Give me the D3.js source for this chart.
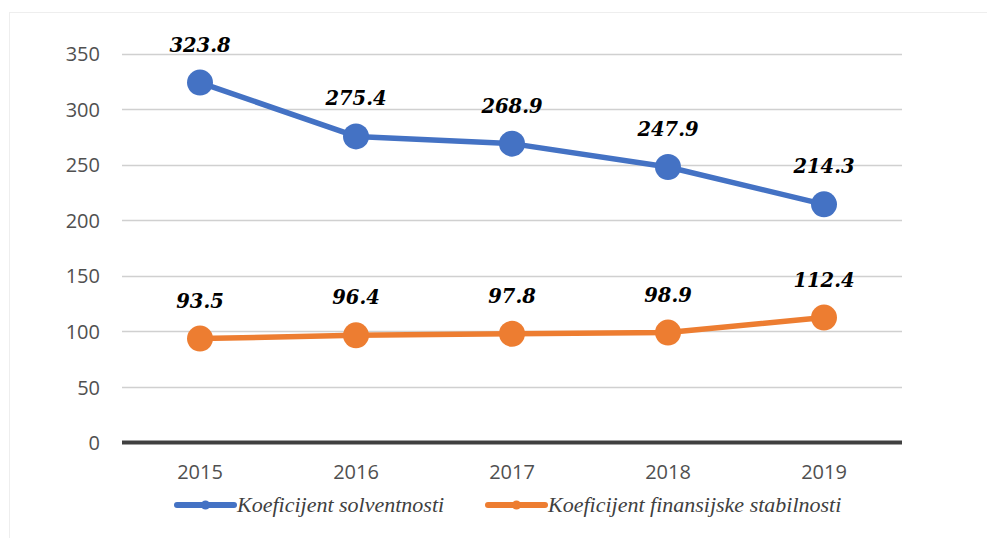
<!DOCTYPE html>
<html><head><meta charset="utf-8">
<script src="https://cdn.jsdelivr.net/npm/d3@7"></script>
<style>html,body{margin:0;padding:0;background:#fff;}svg{display:block;}</style>
</head><body>
<svg id="c" width="987" height="538"></svg>
<script>
const years = ["2015","2016","2017","2018","2019"];
const solvency = [323.8, 275.4, 268.9, 247.9, 214.3];
const stability = [93.5, 96.4, 97.8, 98.9, 112.4];
const seriesNames = ["Koeficijent solventnosti", "Koeficijent finansijske stabilnosti"];
const seriesColors = ["#4472C4", "#ED7D31"];
const yTicks = [0, 50, 100, 150, 200, 250, 300, 350];

const svg = d3.select("#c");
// faint chart frame edges
svg.append("line").attr("x1",9).attr("x2",987).attr("y1",12.5).attr("y2",12.5).attr("stroke","#eeeeee").attr("stroke-width",1);
svg.append("line").attr("x1",9.5).attr("x2",9.5).attr("y1",12).attr("y2",538).attr("stroke","#eeeeee").attr("stroke-width",1);

const x = d3.scaleBand().domain(years).range([122, 902]);
const y = d3.scaleLinear().domain([0, 350]).range([442.5, 53.5]);

// gridlines
svg.append("g").selectAll("line").data(yTicks.filter(d=>d>0)).join("line")
  .attr("x1",122).attr("x2",902)
  .attr("y1",d=>Math.round(y(d))+0.5).attr("y2",d=>Math.round(y(d))+0.5)
  .attr("stroke","#d0d0d0").attr("stroke-width",1.5);

// zero axis
svg.append("line").attr("x1",122).attr("x2",902).attr("y1",y(0)).attr("y2",y(0))
  .attr("stroke","#404040").attr("stroke-width",4);

// y tick labels
const yAxis = d3.axisLeft(y).tickValues(yTicks).tickSize(0).tickPadding(0);
const ga = svg.append("g").attr("transform","translate(100,0)").call(yAxis);
ga.select(".domain").remove();
ga.selectAll("text").attr("font-family","'Open Sans', sans-serif").attr("font-size","20px")
  .attr("fill","#505050").attr("dy","0.36em");

// x labels
const xAxis = d3.axisBottom(x).tickSize(0).tickPadding(0);
const gx = svg.append("g").attr("transform","translate(0,465)").call(xAxis);
gx.select(".domain").remove();
gx.selectAll("text").attr("font-family","'Open Sans', sans-serif").attr("font-size","20px")
  .attr("fill","#505050").attr("dy","0.7em");

const cx = d => x(d) + x.bandwidth()/2;
const line = d3.line().x((d,i)=>cx(years[i])).y(d=>y(d));

[solvency, stability].forEach((vals, si) => {
  const g = svg.append("g");
  g.append("path").datum(vals).attr("d", line).attr("fill","none")
    .attr("stroke", seriesColors[si]).attr("stroke-width",5.5).attr("stroke-linejoin","round");
  g.selectAll("circle").data(vals).join("circle")
    .attr("cx",(d,i)=>cx(years[i])).attr("cy",d=>y(d)).attr("r",13)
    .attr("fill", seriesColors[si]);
  g.selectAll("text").data(vals).join("text")
    .attr("x",(d,i)=>cx(years[i])).attr("y",d=>y(d)-31)
    .attr("text-anchor","middle")
    .attr("font-family","'DejaVu Serif', serif").attr("font-weight","bold").attr("font-style","italic")
    .attr("font-size","19.5px").attr("fill","#000")
    .text(d=>d.toFixed(1));
});

// legend
const legendX = [177, 488];
seriesNames.forEach((name, i) => {
  const g = svg.append("g").attr("transform",`translate(${legendX[i]},505)`);
  g.append("line").attr("x1",0).attr("x2",57).attr("y1",0).attr("y2",0)
    .attr("stroke",seriesColors[i]).attr("stroke-width",6).attr("stroke-linecap","round");
  g.append("circle").attr("cx",28.5).attr("cy",0).attr("r",4.5).attr("fill",seriesColors[i]);
  g.append("text").attr("x",60).attr("y",7)
    .attr("font-family","'Liberation Serif', serif").attr("font-style","italic")
    .attr("font-size","22px").attr("fill","#404040").text(name);
});
</script>
</body></html>
